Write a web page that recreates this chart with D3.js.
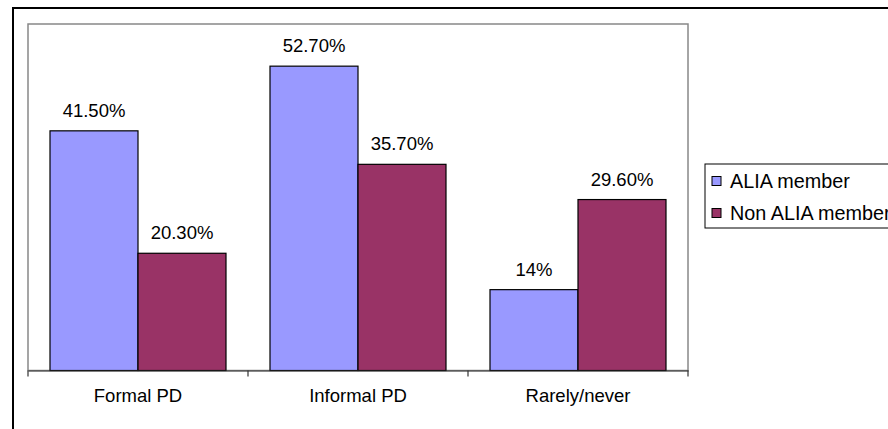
<!DOCTYPE html>
<html><head><meta charset="utf-8">
<script src="https://cdn.jsdelivr.net/npm/d3@7"></script>
<style>body{margin:0;background:#fff;}svg{display:block;font-family:"Liberation Sans",Arial,sans-serif;}</style>
</head><body>
<svg id="c" width="888" height="429"></svg>
<script>
const categories = ["Formal PD", "Informal PD", "Rarely/never"];
const seriesNames = ["ALIA member", "Non ALIA member"];
const aliaValues = [41.5, 52.7, 14];
const nonAliaValues = [20.3, 35.7, 29.6];
const valueLabels = [["41.50%", "52.70%", "14%"], ["20.30%", "35.70%", "29.60%"]];
const colors = ["#9999FF", "#993366"];

const svg = d3.select("#c");
const plot = {left: 28, right: 688, top: 24, bottom: 370.5};

// outer chart border
svg.append("rect").attr("x", 13).attr("y", 8).attr("width", 900).attr("height", 440)
  .attr("fill", "#fff").attr("stroke", "#000").attr("stroke-width", 2);

// plot area
svg.append("rect").attr("x", plot.left).attr("y", plot.top)
  .attr("width", plot.right - plot.left).attr("height", plot.bottom - plot.top)
  .attr("fill", "#fff").attr("stroke", "#888").attr("stroke-width", 1.5);

const x0 = d3.scaleBand().domain(categories).range([plot.left, plot.right]).padding(0);
const x1 = d3.scaleBand().domain(seriesNames).range([0, x0.bandwidth()]).paddingInner(0).paddingOuter(0.25);
const y = d3.scaleLinear().domain([0, 60]).range([plot.bottom, plot.top]);

const data = categories.map((c, i) => ({cat: c, vals: [aliaValues[i], nonAliaValues[i]], labels: [valueLabels[0][i], valueLabels[1][i]]}));

const g = svg.append("g").selectAll("g").data(data).join("g")
  .attr("transform", d => `translate(${x0(d.cat)},0)`);

g.selectAll("rect").data(d => d.vals.map((v, j) => ({v, j, s: seriesNames[j]}))).join("rect")
  .attr("x", d => x1(d.s)).attr("width", x1.bandwidth())
  .attr("y", d => y(d.v)).attr("height", d => y(0) - y(d.v))
  .attr("fill", d => colors[d.j]).attr("stroke", "#000").attr("stroke-width", 1.2);

g.selectAll("text").data(d => d.vals.map((v, j) => ({v, j, s: seriesNames[j], t: d.labels[j]}))).join("text")
  .attr("x", d => x1(d.s) + x1.bandwidth() / 2)
  .attr("y", d => y(d.v) - 14)
  .attr("text-anchor", "middle").attr("font-size", 18.5).attr("fill", "#000")
  .text(d => d.t);

// x axis
const xAxis = d3.axisBottom(x0).tickSize(0).tickPadding(18);
const ax = svg.append("g").attr("transform", `translate(0,${plot.bottom})`).call(xAxis);
ax.select(".domain").attr("stroke", "#333").attr("stroke-width", 1.2);
ax.selectAll("text").attr("font-size", 18.5).attr("fill", "#000").attr("font-family", '"Liberation Sans",Arial,sans-serif');
// boundary ticks
const bounds = [plot.left].concat(categories.map(c => x0(c) + x0.bandwidth()));
svg.append("g").selectAll("line").data(bounds).join("line")
  .attr("x1", d => d).attr("x2", d => d)
  .attr("y1", plot.bottom).attr("y2", plot.bottom + 6)
  .attr("stroke", "#333").attr("stroke-width", 1.2);

// legend
const lg = svg.append("g");
lg.append("rect").attr("x", 705).attr("y", 164).attr("width", 220).attr("height", 64)
  .attr("fill", "#fff").attr("stroke", "#000").attr("stroke-width", 1);
const rowsY = [181, 213];
seriesNames.forEach((s, i) => {
  lg.append("rect").attr("x", 712).attr("y", rowsY[i] - 4.5).attr("width", 9).attr("height", 9)
    .attr("fill", colors[i]).attr("stroke", "#000").attr("stroke-width", 1);
  lg.append("text").attr("x", 730).attr("y", rowsY[i]).attr("dy", "0.35em")
    .attr("font-size", 19.8).attr("fill", "#000").text(s);
});
</script>
</body></html>
